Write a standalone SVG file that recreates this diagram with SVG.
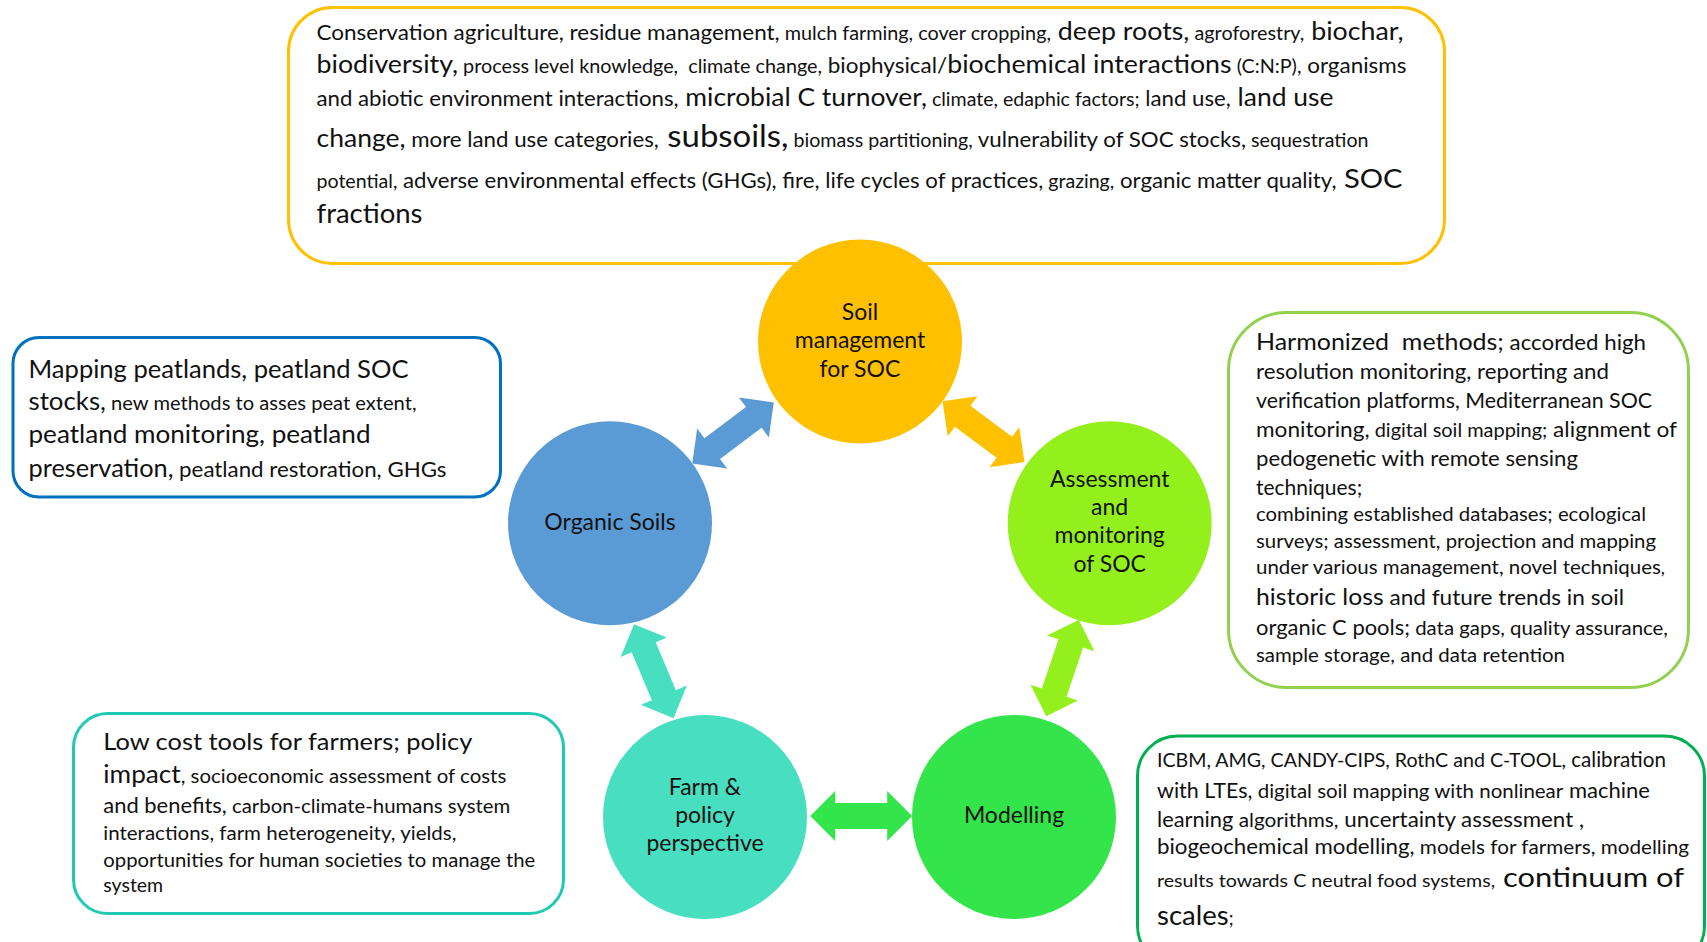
<svg xmlns="http://www.w3.org/2000/svg" width="1707" height="942" viewBox="0 0 1707 942">
  <style>
    text { font-family: Lato, "Liberation Sans", sans-serif; fill: #111; }
    .box { fill: #fff; stroke-width: 3; }
    .lbl { font-size: 23px; text-anchor: middle; }
    .f17 { font-size: 17.5px; }
    .f18 { font-size: 18.5px; }
    .f19 { font-size: 19.5px; }
    .f20 { font-size: 20.5px; }
    .f21 { font-size: 21px; }
    .f22 { font-size: 22px; }
    .f23 { font-size: 23px; }
    .f25 { font-size: 25px; }
    .f27 { font-size: 27.5px; }
    .f31 { font-size: 31px; }
  </style>
  <defs>
    <!-- double-headed block arrow, 102 long, centred on the origin -->
    <path id="dbl" d="M-51,0 L-26,-25 L-26,-13 L26,-13 L26,-25 L51,0 L26,25 L26,13 L-26,13 L-26,25 Z"/>
  </defs>

  <rect width="1707" height="942" fill="#fff"/>

  <!-- topic boxes -->
  <g id="box-management">
    <rect class="box" x="288.5" y="7.5" width="1156" height="256" rx="44" stroke="#FFC000"/>
    <text x="316.5" y="40" textLength="1087" lengthAdjust="spacingAndGlyphs"><tspan class="f21">Conservation agriculture, residue management,</tspan><tspan class="f18"> mulch farming, cover cropping,</tspan><tspan class="f25"> deep roots,</tspan><tspan class="f18"> agroforestry,</tspan><tspan class="f25"> biochar,</tspan></text>
    <text x="316.5" y="73.3" textLength="1090" lengthAdjust="spacingAndGlyphs"><tspan class="f25">biodiversity,</tspan><tspan class="f18"> process level knowledge,&#160; climate change,</tspan><tspan class="f21"> biophysical/</tspan><tspan class="f25">biochemical interactions</tspan><tspan class="f18"> (C:N:P),</tspan><tspan class="f21"> organisms</tspan></text>
    <text x="316.5" y="106" textLength="1017" lengthAdjust="spacingAndGlyphs"><tspan class="f21">and abiotic environment interactions,</tspan><tspan class="f25"> microbial C turnover,</tspan><tspan class="f18"> climate, edaphic factors;</tspan><tspan class="f21"> land use,</tspan><tspan class="f25"> land use</tspan></text>
    <text x="316.5" y="146.7" textLength="1052" lengthAdjust="spacingAndGlyphs"><tspan class="f25">change,</tspan><tspan class="f21"> more land use categories,</tspan><tspan class="f31"> subsoils,</tspan><tspan class="f18"> biomass partitioning,</tspan><tspan class="f21"> vulnerability of SOC stocks,</tspan><tspan class="f18"> sequestration</tspan></text>
    <text x="316.5" y="187.5" textLength="1086" lengthAdjust="spacingAndGlyphs"><tspan class="f18">potential,</tspan><tspan class="f21"> adverse environmental effects (GHGs), fire, life cycles of practices,</tspan><tspan class="f18"> grazing,</tspan><tspan class="f21"> organic matter quality,</tspan><tspan class="f27"> SOC</tspan></text>
    <text x="316.5" y="222.7" class="f27">fractions</text>
  </g>

  <g id="box-organic">
    <rect class="box" x="13" y="337.5" width="487.5" height="159.5" rx="26" stroke="#0070C0"/>
    <text x="28.5" y="377.7" textLength="380" lengthAdjust="spacingAndGlyphs"><tspan class="f25">Mapping peatlands, peatland SOC</tspan></text>
    <text x="28.5" y="410" textLength="388" lengthAdjust="spacingAndGlyphs"><tspan class="f25">stocks,</tspan><tspan class="f19"> new methods to asses peat extent,</tspan></text>
    <text x="28.5" y="442.7" textLength="342" lengthAdjust="spacingAndGlyphs"><tspan class="f25">peatland monitoring, peatland</tspan></text>
    <text x="28.5" y="476.7" textLength="418" lengthAdjust="spacingAndGlyphs"><tspan class="f25">preservation,</tspan><tspan class="f22"> peatland restoration, GHGs</tspan></text>
  </g>

  <g id="box-assessment">
    <rect class="box" x="1228.5" y="312.5" width="460" height="375" rx="58" stroke="#92D050"/>
    <text x="1256" y="350" textLength="390" lengthAdjust="spacingAndGlyphs"><tspan class="f23">Harmonized&#160; methods;</tspan><tspan class="f20"> accorded high</tspan></text>
    <text x="1256" y="379" textLength="353" lengthAdjust="spacingAndGlyphs"><tspan class="f21">resolution monitoring, reporting and</tspan></text>
    <text x="1256" y="408.3" textLength="396" lengthAdjust="spacingAndGlyphs"><tspan class="f21">verification platforms, Mediterranean SOC</tspan></text>
    <text x="1256" y="436.7" textLength="421" lengthAdjust="spacingAndGlyphs"><tspan class="f21">monitoring,</tspan><tspan class="f18"> digital soil mapping;</tspan><tspan class="f21"> alignment of</tspan></text>
    <text x="1256" y="465.7" textLength="322" lengthAdjust="spacingAndGlyphs"><tspan class="f21">pedogenetic with remote sensing</tspan></text>
    <text x="1256" y="495" class="f21">techniques;</text>
    <text x="1256" y="521" textLength="390" lengthAdjust="spacingAndGlyphs"><tspan class="f19">combining established databases; ecological</tspan></text>
    <text x="1256" y="548.3" textLength="400" lengthAdjust="spacingAndGlyphs"><tspan class="f19">surveys; assessment, projection and mapping</tspan></text>
    <text x="1256" y="574.3" textLength="409" lengthAdjust="spacingAndGlyphs"><tspan class="f19">under various management, novel techniques</tspan><tspan class="f17">,</tspan></text>
    <text x="1256" y="605" textLength="368" lengthAdjust="spacingAndGlyphs"><tspan class="f23">historic loss</tspan><tspan class="f21"> and future trends in soil</tspan></text>
    <text x="1256" y="635" textLength="412" lengthAdjust="spacingAndGlyphs"><tspan class="f21">organic C pools;</tspan><tspan class="f19"> data gaps, quality assurance,</tspan></text>
    <text x="1256" y="661.7" textLength="309" lengthAdjust="spacingAndGlyphs"><tspan class="f19">sample storage, and data retention</tspan></text>
  </g>

  <g id="box-farm">
    <rect class="box" x="73.5" y="713.5" width="490" height="200" rx="34" stroke="#20C9B4"/>
    <text x="103.3" y="750" textLength="369" lengthAdjust="spacingAndGlyphs"><tspan class="f23">Low cost tools for farmers; policy</tspan></text>
    <text x="103.3" y="783.3" textLength="403" lengthAdjust="spacingAndGlyphs"><tspan class="f25">impact</tspan><tspan class="f19">, socioeconomic assessment of costs</tspan></text>
    <text x="103.3" y="813.3" textLength="407" lengthAdjust="spacingAndGlyphs"><tspan class="f21">and benefits,</tspan><tspan class="f19"> carbon-climate-humans system</tspan></text>
    <text x="103.3" y="840" textLength="353" lengthAdjust="spacingAndGlyphs"><tspan class="f19">interactions, farm heterogeneity, yields,</tspan></text>
    <text x="103.3" y="866.7" textLength="432" lengthAdjust="spacingAndGlyphs"><tspan class="f19">opportunities for human societies to manage the</tspan></text>
    <text x="103.3" y="891.7" class="f19">system</text>
  </g>

  <g id="box-modelling">
    <rect class="box" x="1137.5" y="736" width="567" height="230" rx="40" stroke="#00B050"/>
    <text x="1157" y="766.7" textLength="509" lengthAdjust="spacingAndGlyphs"><tspan class="f19">ICBM, AMG, CANDY-CIPS, RothC and C-TOOL,</tspan><tspan class="f20"> calibration</tspan></text>
    <text x="1157" y="797.7" textLength="493" lengthAdjust="spacingAndGlyphs"><tspan class="f20">with LTEs,</tspan><tspan class="f19"> digital soil mapping with nonlinear</tspan><tspan class="f21"> machine</tspan></text>
    <text x="1157" y="826.7" textLength="427" lengthAdjust="spacingAndGlyphs"><tspan class="f20">learning</tspan><tspan class="f19"> algorithms,</tspan><tspan class="f21"> uncertainty assessment ,</tspan></text>
    <text x="1157" y="854" textLength="532" lengthAdjust="spacingAndGlyphs"><tspan class="f21">biogeochemical modelling,</tspan><tspan class="f19"> models for farmers, modelling</tspan></text>
    <text x="1157" y="886.7" textLength="527" lengthAdjust="spacingAndGlyphs"><tspan class="f17">results towards C neutral food systems,</tspan><tspan class="f27"> continuum of</tspan></text>
    <text x="1157" y="925"><tspan class="f27">scales</tspan><tspan class="f18">;</tspan></text>
  </g>

  <!-- circular theme nodes -->
  <g id="node-soil-management">
    <circle cx="860" cy="341.5" r="102" fill="#FFC000"/>
    <text class="lbl" x="860" y="320">Soil</text>
    <text class="lbl" x="860" y="348.3">management</text>
    <text class="lbl" x="860" y="376.7">for SOC</text>
  </g>
  <g id="node-organic-soils">
    <circle cx="610" cy="523.3" r="102" fill="#5B9BD5"/>
    <text class="lbl" x="610" y="530">Organic Soils</text>
  </g>
  <g id="node-assessment">
    <circle cx="1109.7" cy="523.3" r="102" fill="#94F01C"/>
    <text class="lbl" x="1109.7" y="486.7">Assessment</text>
    <text class="lbl" x="1109.7" y="515">and</text>
    <text class="lbl" x="1109.7" y="543.3">monitoring</text>
    <text class="lbl" x="1109.7" y="572">of SOC</text>
  </g>
  <g id="node-farm-policy">
    <circle cx="705" cy="817" r="102" fill="#48DEC0"/>
    <text class="lbl" x="705" y="795">Farm &amp;</text>
    <text class="lbl" x="705" y="823">policy</text>
    <text class="lbl" x="705" y="850.5">perspective</text>
  </g>
  <g id="node-modelling">
    <circle cx="1014" cy="817" r="102" fill="#33E54A"/>
    <text class="lbl" x="1014" y="823.3">Modelling</text>
  </g>

  <!-- two-way connectors between the themes -->
  <g id="connectors">
    <use href="#dbl" fill="#5B9BD5" transform="translate(733,433) rotate(-36.9)"/>
    <use href="#dbl" fill="#FFC000" transform="translate(983.5,431.7) rotate(36.6)"/>
    <use href="#dbl" fill="#48DEC0" transform="translate(653.8,671.2) rotate(67.2)"/>
    <use href="#dbl" fill="#94F01C" transform="translate(1062.5,668) rotate(-71.4)"/>
    <use href="#dbl" fill="#33E54A" transform="translate(861.2,816)"/>
  </g>
</svg>
